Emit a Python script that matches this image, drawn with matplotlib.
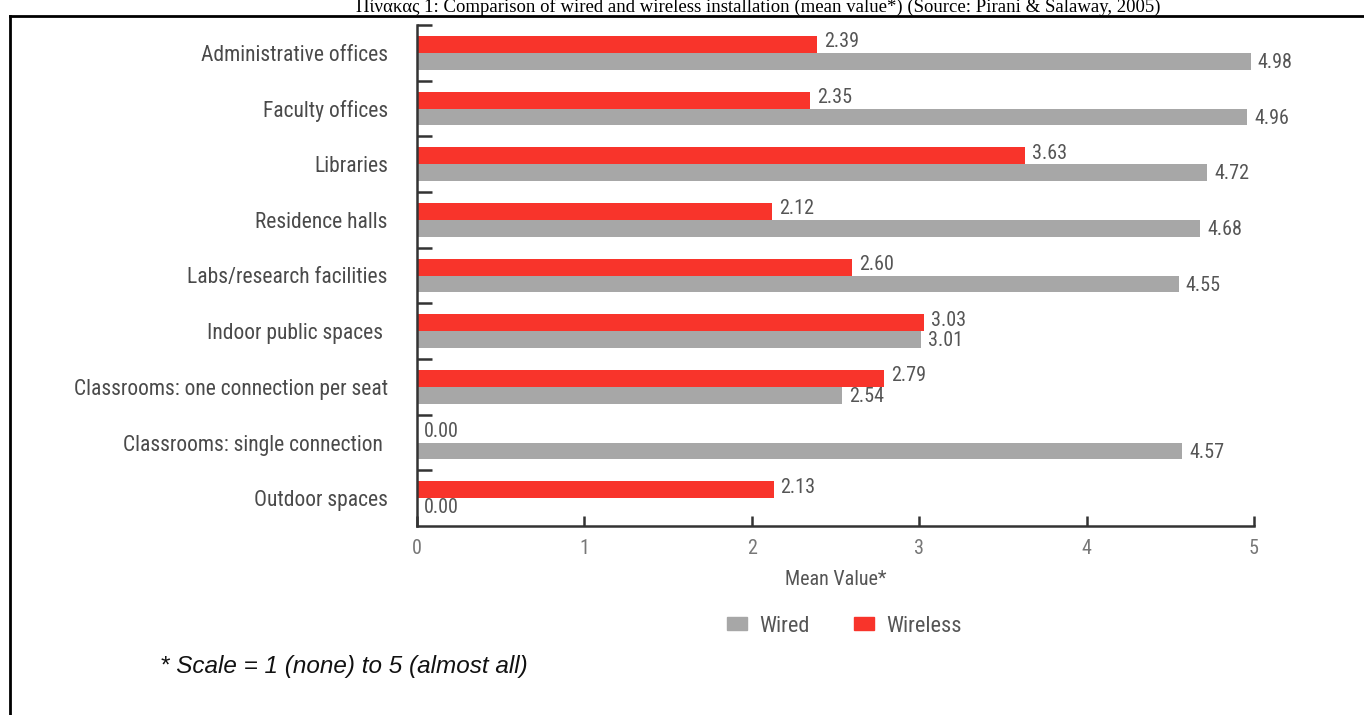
import matplotlib
matplotlib.use("Agg")
import matplotlib.pyplot as plt
from matplotlib.lines import Line2D
from matplotlib.patches import Patch
import numpy as np

categories = ["Administrative offices", "Faculty offices", "Libraries", "Residence halls",
              "Labs/research facilities", "Indoor public spaces ",
              "Classrooms: one connection per seat", "Classrooms: single connection ",
              "Outdoor spaces"]
wireless = [2.39, 2.35, 3.63, 2.12, 2.60, 3.03, 2.79, 0.00, 2.13]
wired = [4.98, 4.96, 4.72, 4.68, 4.55, 3.01, 2.54, 4.57, 0.00]
xticks = [0, 1, 2, 3, 4, 5]

RED = "#F8342B"
GRAY = "#A7A7A7"
NARROW = ["Liberation Sans Narrow", "Roboto Condensed", "Roboto", "DejaVu Sans"]

W, H = 1364, 715
fig = plt.figure(figsize=(W / 100, H / 100), dpi=100)

# frame lines (top and left)
fig.add_artist(Line2D([10 / W, 1], [1 - 16 / H, 1 - 16 / H], color="black", lw=2))
fig.add_artist(Line2D([10 / W, 10 / W], [0, 1 - 16 / H], color="black", lw=2))

# title
fig.text(0.5 + 76 / W, 1 - 12 / H,
         "Πίνακας 1: Comparison of wired and wireless installation (mean value*) (Source: Pirani & Salaway, 2005)",
         ha="center", va="baseline", fontsize=13.5, family="Liberation Serif", color="black")

ax = fig.add_axes([417 / W, 1 - 526 / H, (1254 - 417) / W, (526 - 25) / H])
y = np.arange(len(categories))
h = 0.3
ax.barh(y - h / 2, wireless, height=h, color=RED, label="Wireless")
ax.barh(y + h / 2, wired, height=h, color=GRAY, label="Wired")

for yi, v in zip(y, wireless):
    ax.annotate(f"{v:.2f}", (v, yi - h / 2), xytext=(5, 2), textcoords="offset points",
                ha="left", va="center", fontsize=14.5, color="#555555", family=NARROW)
for yi, v in zip(y, wired):
    ax.annotate(f"{v:.2f}", (v, yi + h / 2), xytext=(5, -1), textcoords="offset points",
                ha="left", va="center", fontsize=14.5, color="#555555", family=NARROW)

ax.set_xlim(0, 5)
ax.set_ylim(len(categories) - 0.5, -0.5)
ax.set_xticks(xticks)
ax.set_xticklabels([str(t) for t in xticks], family=NARROW, fontsize=14.5, color="#777777")
ax.tick_params(axis="x", direction="in", length=7, width=1.8, color="#333333", pad=9)

ax.set_yticks(np.arange(len(categories)) - 0.5)
ax.set_yticklabels([""] * len(categories))
ax.tick_params(axis="y", which="major", direction="in", length=11, width=1.8, color="#333333")
ax.set_yticks(y, minor=True)
ax.set_yticklabels(categories, minor=True, family=NARROW, fontsize=15.5, color="#4a4a4a")
ax.tick_params(axis="y", which="minor", length=0, pad=21)

for s in ["top", "right"]:
    ax.spines[s].set_visible(False)
for s in ["left", "bottom"]:
    ax.spines[s].set_color("#333333")
    ax.spines[s].set_linewidth(1.8)

ax.set_xlabel("Mean Value*", family=NARROW, fontsize=14.5, color="#555555", labelpad=9)

handles = [Patch(color=GRAY, label="Wired"), Patch(color=RED, label="Wireless")]
fig.legend(handles=handles, loc="center", bbox_to_anchor=(844 / W, 1 - 626 / H), ncol=2,
           frameon=False, prop={"family": NARROW, "size": 16}, labelcolor="#555555",
           handlelength=0.9, handleheight=0.55, columnspacing=2.0, handletextpad=0.55)

fig.text(160 / W, 1 - 667 / H, "* Scale = 1 (none) to 5 (almost all)", ha="left", va="center",
         fontsize=17.5, style="italic", family="Liberation Sans", color="#111111")

fig.savefig("out.png", dpi=100)
